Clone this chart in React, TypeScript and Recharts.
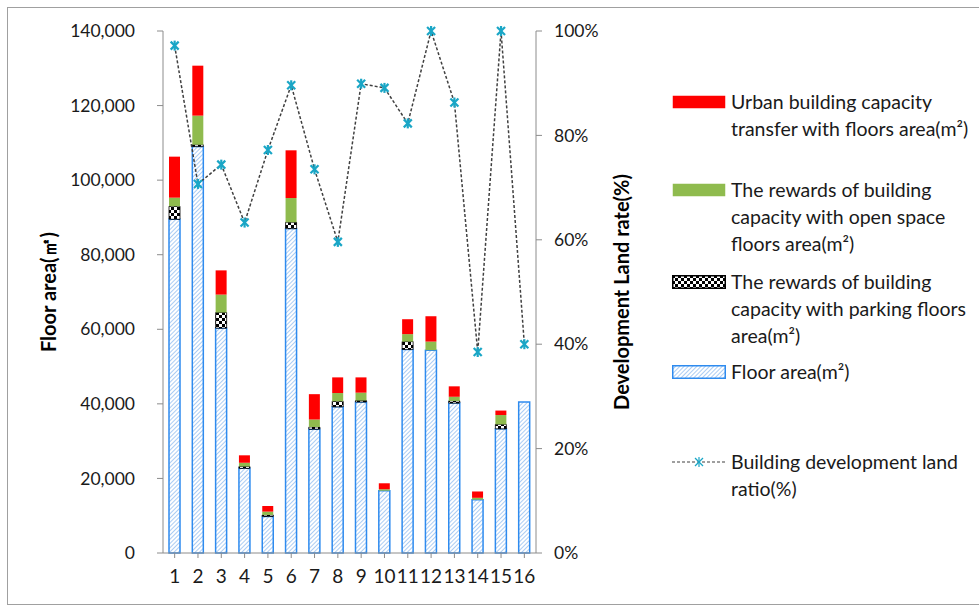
import { ComposedChart, Bar, Line, XAxis, YAxis } from 'recharts';

const categories = ['1', '2', '3', '4', '5', '6', '7', '8', '9', '10', '11', '12', '13', '14', '15', '16'];
const floorArea = [89500, 109000, 60300, 22700, 9800, 87000, 33200, 39200, 40500, 16700, 54600, 54400, 40200, 14300, 33300, 40500];
const parkingReward = [3500, 500, 4200, 500, 400, 1700, 600, 1500, 400, 0, 2100, 0, 600, 0, 1200, 0];
const openSpaceReward = [2300, 7800, 4800, 1000, 900, 6500, 2000, 2200, 2100, 400, 2000, 2300, 1100, 500, 2500, 0];
const transferArea = [11000, 13400, 6500, 2000, 1500, 12800, 6800, 4200, 4100, 1600, 4000, 6800, 2800, 1700, 1200, 0];
const landRatio = [97.2, 70.7, 74.4, 63.3, 77.2, 89.6, 73.5, 59.6, 89.9, 89.1, 82.3, 100, 86.3, 38.5, 100, 40];
const leftTicks = [0, 20000, 40000, 60000, 80000, 100000, 120000, 140000];
const rightTicks = [0, 20, 40, 60, 80, 100];

const data = categories.map((c, i) => ({
  name: c,
  floor: floorArea[i],
  parking: parkingReward[i],
  open: openSpaceReward[i],
  transfer: transferArea[i],
  ratio: landRatio[i],
}));

const FONT = 'Lato, "Noto Sans", sans-serif';
const AXIS = '#8c8c8c';
const STAR = '#1aa6c6';

function Asterisk(props: any) {
  const { cx, cy } = props;
  if (cx == null || cy == null) return null;
  const r = 4;
  return (
    <g stroke={STAR} strokeWidth={2.2}>
      <line x1={cx - r} y1={cy - r} x2={cx + r} y2={cy + r} />
      <line x1={cx - r} y1={cy + r} x2={cx + r} y2={cy - r} />
      <line x1={cx} y1={cy - r - 1} x2={cx} y2={cy + r + 1} />
    </g>
  );
}

const legendItems = [
  { lines: ['Urban building capacity', 'transfer with floors area(m²)'], top: 88, kind: 'red' },
  { lines: ['The rewards of building', 'capacity with open space', 'floors area(m²)'], top: 176, kind: 'green' },
  { lines: ['The rewards of building', 'capacity with parking floors', 'area(m²)'], top: 268, kind: 'checker' },
  { lines: ['Floor area(m²)'], top: 358, kind: 'blue' },
  { lines: ['Building development land', 'ratio(%)'], top: 448, kind: 'line' },
];

function Swatch({ kind }: { kind: string }) {
  if (kind === 'line') {
    return (
      <svg width={54} height={14}>
        <line x1={0} y1={7} x2={54} y2={7} stroke="#404040" strokeWidth={1.2} strokeDasharray="3 2" />
        <g stroke={STAR} strokeWidth={1.2}>
          <line x1={23} y1={3} x2={31} y2={11} />
          <line x1={23} y1={11} x2={31} y2={3} />
          <line x1={27} y1={2} x2={27} y2={12} />
        </g>
      </svg>
    );
  }
  const fill = kind === 'red' ? '#ff0000' : kind === 'green' ? '#8fbb4e' : kind === 'checker' ? 'url(#checkerL)' : 'url(#hatchL)';
  return (
    <svg width={54} height={14}>
      <defs>
        <pattern id="checkerL" width={6} height={6} patternUnits="userSpaceOnUse">
          <rect width={6} height={6} fill="#fff" />
          <rect width={3} height={3} fill="#000" />
          <rect x={3} y={3} width={3} height={3} fill="#000" />
        </pattern>
        <pattern id="hatchL" width={3} height={3} patternUnits="userSpaceOnUse" patternTransform="rotate(45)">
          <rect width={3} height={3} fill="#fff" />
          <line x1={0} y1={0} x2={0} y2={3} stroke="#8fbbef" strokeWidth={1.5} />
        </pattern>
      </defs>
      <rect
        x={0.75}
        y={0.75}
        width={52.5}
        height={12.5}
        fill={fill}
        stroke={kind === 'blue' ? '#2e8bef' : kind === 'checker' ? '#000' : 'none'}
        strokeWidth={1.5}
      />
    </svg>
  );
}

export default function App() {
  return (
    <div style={{ position: 'absolute', left: 0, top: 0, width: 979, height: 606, background: '#fff', fontFamily: FONT }}>
      <div style={{ position: 'absolute', left: 7, top: 7, width: 990, height: 596, border: '1px solid #a0a0a0' }} />
      <ComposedChart
        width={979}
        height={606}
        data={data}
        margin={{ top: 31, right: 343, bottom: 13, left: 63 }}
        barCategoryGap={0}
      >
        <defs>
          <pattern id="hatch" width={3} height={3} patternUnits="userSpaceOnUse" patternTransform="rotate(45)">
            <rect width={3} height={3} fill="#fff" />
            <line x1={0} y1={0} x2={0} y2={3} stroke="#8fbbef" strokeWidth={1.5} />
          </pattern>
          <pattern id="checker" width={6} height={6} patternUnits="userSpaceOnUse">
            <rect width={6} height={6} fill="#fff" />
            <rect width={3} height={3} fill="#000" />
            <rect x={3} y={3} width={3} height={3} fill="#000" />
          </pattern>
        </defs>
        <XAxis
          dataKey="name"
          height={40}
          stroke={AXIS}
          tickSize={5}
          tickMargin={12}
          tick={{ fill: '#1a1a1a', fontSize: 19, fontFamily: FONT }}
          tickLine={{ stroke: AXIS }}
          interval={0}
        />
        <YAxis
          yAxisId="left"
          width={100}
          domain={[0, 140000]}
          ticks={leftTicks}
          stroke={AXIS}
          tickSize={6}
          tickMargin={22}
          tick={{ fill: '#1a1a1a', fontSize: 17.5, fontFamily: FONT }}
          tickFormatter={(v: number) => v.toLocaleString('en-US')}
          label={{
            value: 'Floor area(㎡)',
            angle: -90,
            position: 'insideLeft',
            offset: -14,
            style: { textAnchor: 'middle', fontWeight: 'bold', fontSize: 20, fill: '#000', fontFamily: FONT },
          }}
        />
        <YAxis
          yAxisId="right"
          orientation="right"
          width={100}
          domain={[0, 100]}
          ticks={rightTicks}
          stroke={AXIS}
          tickSize={6}
          tickMargin={12}
          tick={{ fill: '#1a1a1a', fontSize: 17.5, fontFamily: FONT }}
          tickFormatter={(v: number) => `${v}%`}
          label={{
            value: 'Development Land rate(%)',
            angle: -90,
            position: 'insideRight',
            offset: 14,
            style: { textAnchor: 'middle', fontWeight: 'bold', fontSize: 20, fill: '#000', fontFamily: FONT },
          }}
        />
        <Bar yAxisId="left" dataKey="floor" stackId="a" barSize={11} fill="url(#hatch)" stroke="#2e8bef" strokeWidth={1.5} isAnimationActive={false} />
        <Bar yAxisId="left" dataKey="parking" stackId="a" barSize={11} fill="url(#checker)" stroke="#000" strokeWidth={0.8} isAnimationActive={false} />
        <Bar yAxisId="left" dataKey="open" stackId="a" barSize={11} fill="#8fbb4e" isAnimationActive={false} />
        <Bar yAxisId="left" dataKey="transfer" stackId="a" barSize={11} fill="#ff0000" isAnimationActive={false} />
        <Line
          yAxisId="right"
          dataKey="ratio"
          type="linear"
          stroke="#404040"
          strokeWidth={1.5}
          strokeDasharray="3 2"
          dot={<Asterisk />}
          activeDot={false}
          isAnimationActive={false}
        />
      </ComposedChart>
      {legendItems.map((item) => (
        <div key={item.kind} style={{ position: 'absolute', left: 672, top: item.top, display: 'flex' }}>
          <div style={{ width: 59, height: 28, display: 'flex', alignItems: 'center' }}>
            <Swatch kind={item.kind} />
          </div>
          <div style={{ fontSize: 19.5, lineHeight: '27px', color: '#1a1a1a', whiteSpace: 'nowrap' }}>
            {item.lines.map((l) => (
              <div key={l}>{l}</div>
            ))}
          </div>
        </div>
      ))}
    </div>
  );
}
